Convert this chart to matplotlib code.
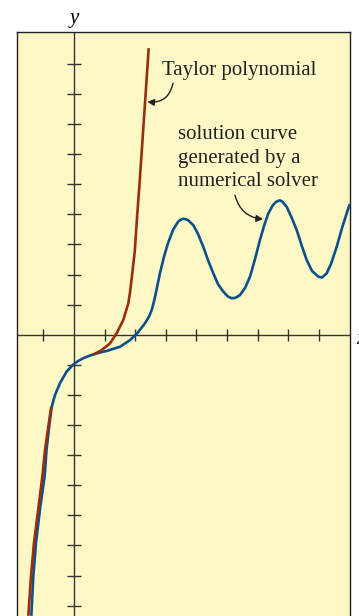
import matplotlib
matplotlib.use("Agg")
import matplotlib.pyplot as plt
import numpy as np

# solution curve from the numerical solver
sol_x = [-1.395, -1.330, -1.242, -1.111, -0.958, -0.899, -0.80, -0.729, -0.621, -0.458,
         -0.239, -0.023, 0.141, 0.304, 0.523, 0.850, 1.069, 1.503, 1.830, 2.069,
         2.320, 2.45, 2.539, 2.62, 2.696, 2.810, 2.941, 3.072, 3.235, 3.399, 3.48,
         3.562, 3.64, 3.725, 3.899, 4.052, 4.225, 4.379, 4.552, 4.706, 4.879, 5.03,
         5.154, 5.29, 5.425, 5.588, 5.752, 5.915, 6.078, 6.209, 6.350, 6.503, 6.59,
         6.676, 6.74, 6.797, 6.951, 7.092, 7.278, 7.435, 7.605, 7.778, 7.984, 8.105,
         8.258, 8.399, 8.585, 8.758, 8.964, 9.020]
sol_y = [-9.34, -8.02, -6.91, -5.79, -4.69, -3.83, -2.95, -2.40, -2.00, -1.61,
         -1.22, -0.99, -0.87, -0.78, -0.69, -0.59, -0.54, -0.40, -0.18, 0.05,
         0.38, 0.60, 0.82, 1.13, 1.49, 2.05, 2.59, 3.04, 3.48, 3.75, 3.82,
         3.85, 3.84, 3.81, 3.64, 3.35, 2.92, 2.48, 2.04, 1.68, 1.43, 1.27,
         1.21, 1.23, 1.32, 1.55, 1.93, 2.51, 3.15, 3.61, 4.03, 4.31, 4.40,
         4.45, 4.46, 4.43, 4.25, 3.94, 3.48, 2.98, 2.48, 2.12, 1.93, 1.90,
         2.04, 2.35, 2.92, 3.54, 4.20, 4.34]

# Taylor polynomial, two visible pieces (the middle part sits under the solution curve)
tay_lo_x = [-1.493, -1.405, -1.307, -1.167, -1.029, -0.948, -0.840, -0.745]
tay_lo_y = [-9.34, -8.02, -6.91, -5.79, -4.66, -3.83, -3.06, -2.40]
tay_hi_x = [0.631, 0.905, 1.176, 1.395, 1.611, 1.775, 1.83, 1.886, 1.984, 2.059,
            2.134, 2.288, 2.441]
tay_hi_y = [-0.66, -0.51, -0.29, 0.05, 0.49, 1.04, 1.40, 1.88, 2.75, 3.88,
            4.91, 7.20, 9.52]

xticks = [-1, 1, 2, 3, 4, 5, 6, 7, 8]
yticks = [-9, -8, -7, -6, -5, -4, -3, -2, -1, 1, 2, 3, 4, 5, 6, 7, 8, 9]

bg = '#fef8c6'
red = '#9a2e0c'
blue = '#0b4f8c'
axc = '#333333'
txtc = '#222222'
serif = 'Liberation Serif'

fig = plt.figure(figsize=(3.59, 6.16), dpi=100)
ax = fig.add_axes([17/359, -0.032, 333/359, 0.98])
ax.set_facecolor(bg)
ax.set_xlim(-1.863, 9.02)
ax.set_ylim(-10.0, 10.056)
ax.set_xticks([])
ax.set_yticks([])
for s in ax.spines.values():
    s.set_linewidth(1.0)
    s.set_color(txtc)

# coordinate axes with tick marks
ax.axhline(0, color=axc, lw=1.0, zorder=1)
ax.axvline(0, color=axc, lw=1.0, zorder=1)
ax.plot(xticks, [0]*len(xticks), ls='', marker='|', ms=9, mew=1.0, color=axc, zorder=1)
ax.plot([0]*len(yticks), yticks, ls='', marker='_', ms=9.5, mew=1.0, color=axc, zorder=1)

lk = dict(lw=1.9, solid_capstyle='butt', solid_joinstyle='round')
ax.plot(sol_x, sol_y, color=blue, zorder=3, **lk)
ax.plot(tay_lo_x, tay_lo_y, color=red, zorder=4, **lk)
ax.plot(tay_hi_x, tay_hi_y, color=red, zorder=4, **lk)

# axis letters
fig.text(74/359, 1-18/616, 'y', fontsize=15, family=serif, style='italic',
         ha='center', va='center')
ax.text(9.22, -0.15, 'x', fontsize=15, family=serif, style='italic',
        ha='left', va='center', clip_on=False)

# labels and arrows
ax.text(2.87, 8.79, 'Taylor polynomial', fontsize=15, family=serif,
        color=txtc, ha='left', va='center')
ax.annotate('', xy=(2.395, 7.74), xytext=(3.235, 8.36),
            arrowprops=dict(arrowstyle='-|>', color=txtc, lw=1.0,
                            shrinkA=0, shrinkB=0, mutation_scale=10,
                            connectionstyle='arc3,rad=-0.45'))
ax.text(3.41, 5.86, 'solution curve\ngenerated by a\nnumerical solver',
        fontsize=15, family=serif, color=txtc, ha='left', va='center',
        linespacing=1.32)
ax.annotate('', xy=(6.18, 3.84), xytext=(5.26, 4.64),
            arrowprops=dict(arrowstyle='-|>', color=txtc, lw=1.0,
                            shrinkA=0, shrinkB=0, mutation_scale=10,
                            connectionstyle='arc3,rad=0.35'))

fig.savefig('out.png', dpi=100, facecolor='white')
